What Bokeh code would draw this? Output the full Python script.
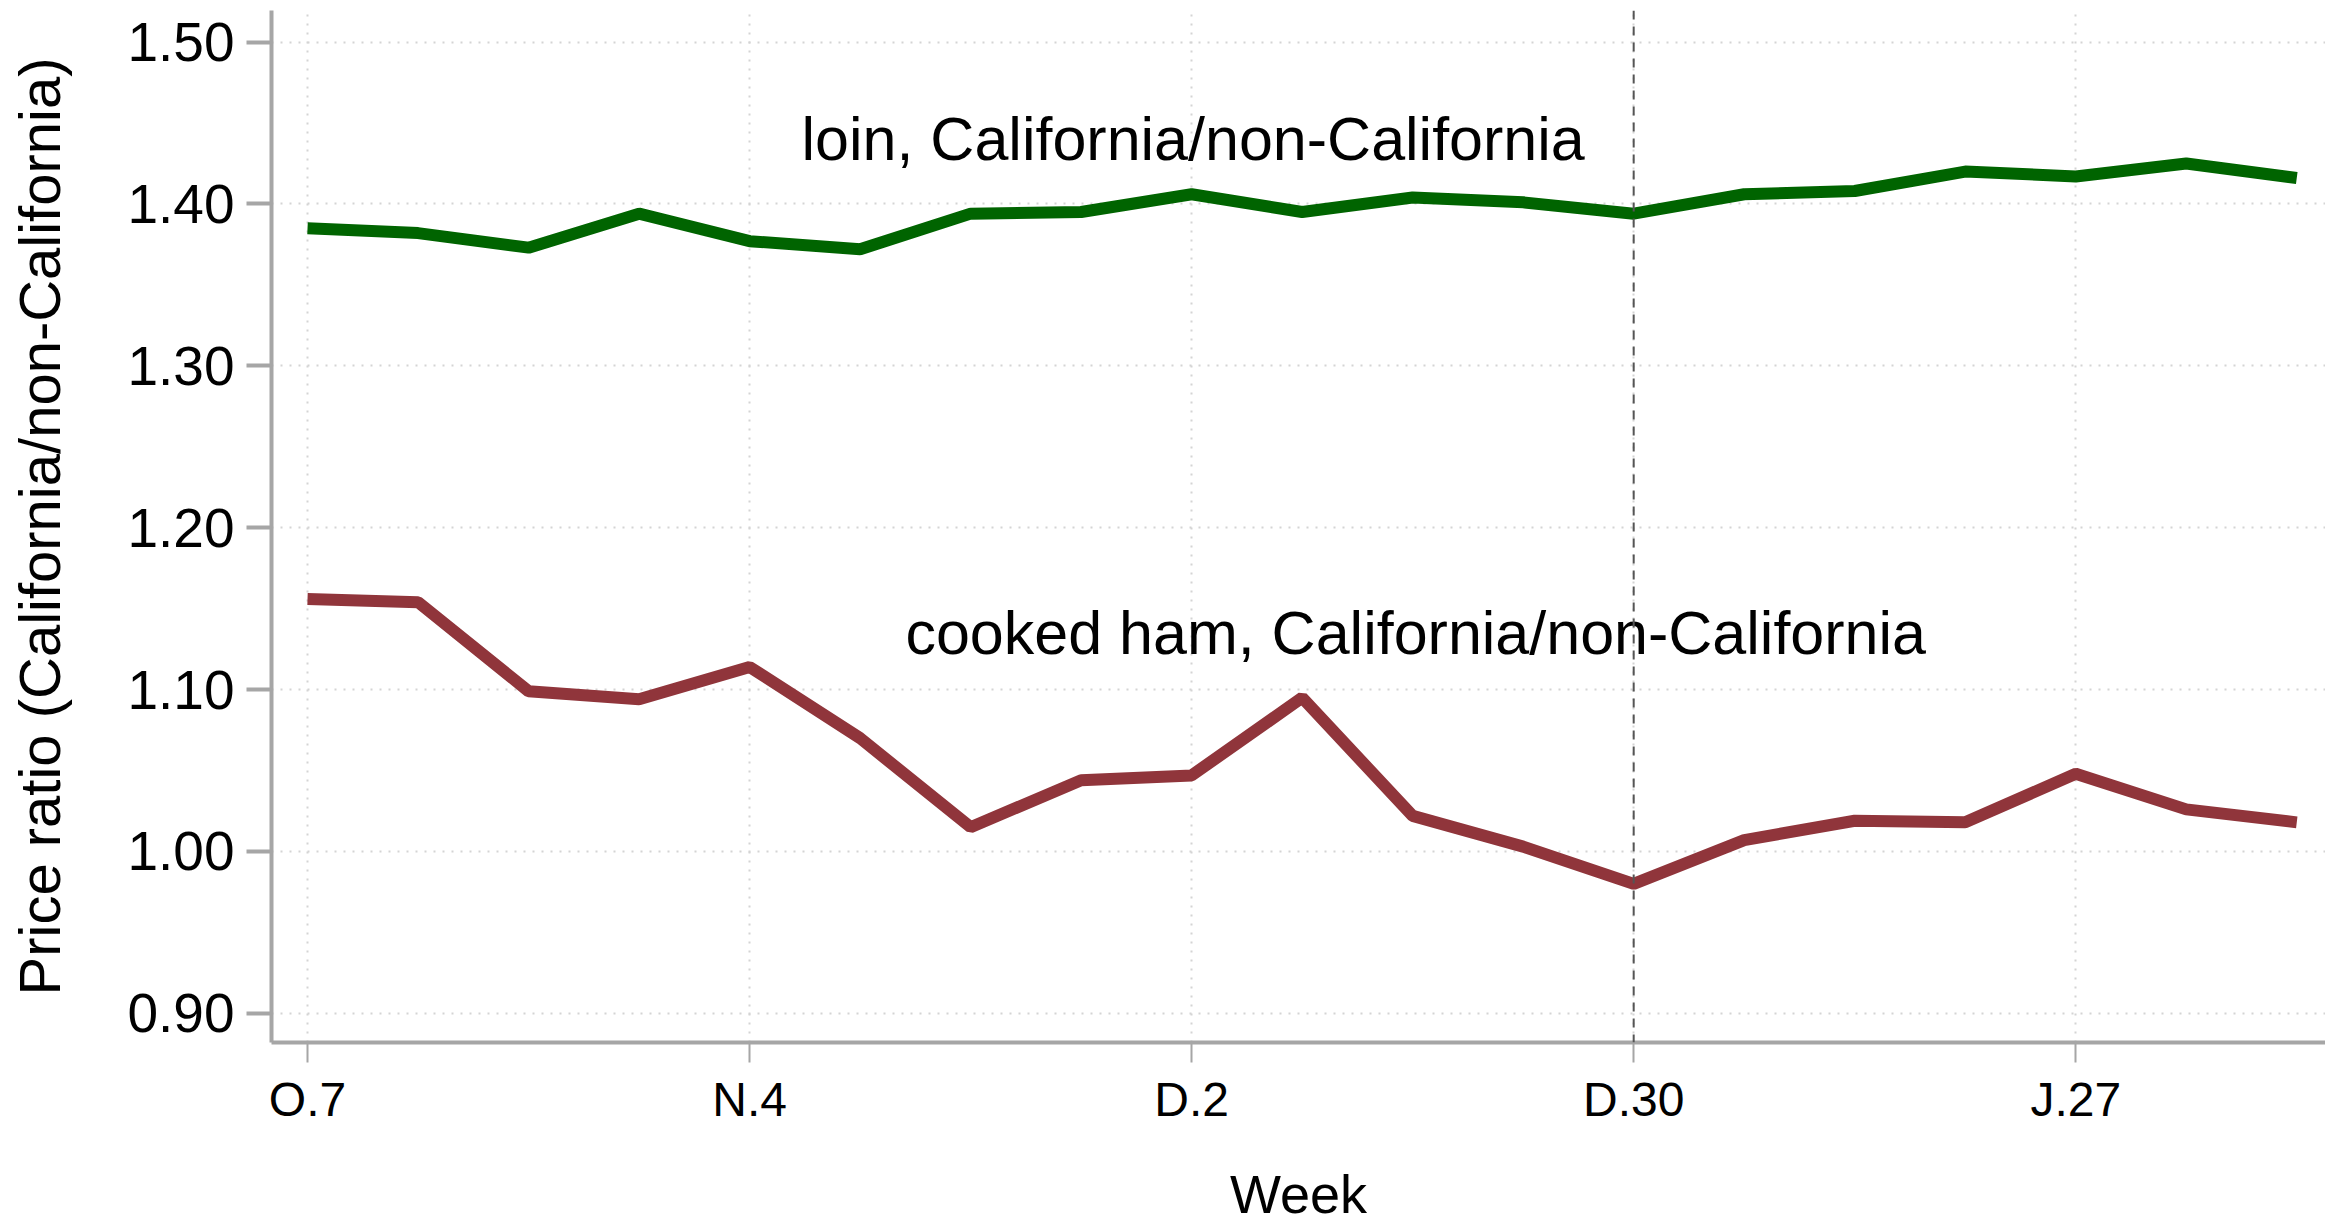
from bokeh.plotting import figure
from bokeh.models import FixedTicker, Span, NumeralTickFormatter, ColumnDataSource, Range1d
from bokeh.core.properties import value
from bokeh.embed import file_html
from bokeh.resources import INLINE

# ---- data ----
weeks = list(range(19))
tick_positions = [0, 4, 8, 12, 16]
tick_labels = ["O.7", "N.4", "D.2", "D.30", "J.27"]
y_ticks = [0.90, 1.00, 1.10, 1.20, 1.30, 1.40, 1.50]

loin = [1.385, 1.382, 1.373, 1.394, 1.377, 1.372, 1.394, 1.395, 1.406, 1.395,
        1.404, 1.401, 1.394, 1.406, 1.408, 1.420, 1.417, 1.425, 1.416]
ham = [1.156, 1.154, 1.099, 1.094, 1.114, 1.070, 1.015, 1.044, 1.047, 1.095,
       1.022, 1.003, 0.980, 1.007, 1.019, 1.018, 1.048, 1.026, 1.018]

loin_label = "loin, California/non-California"
ham_label = "cooked ham, California/non-California"
marker_week = 12

FONT = "Liberation Sans"
GREEN = "#006400"
RED = "#90353B"
AXIS_GRAY = "#a6a6a6"

p = figure(width=2325, height=1227, output_backend="svg", toolbar_location=None,
           x_range=Range1d(-0.326, 18.26), y_range=Range1d(0.882, 1.5195),
           min_border_left=271, min_border_bottom=185, min_border_top=10, min_border_right=0)
p.outline_line_color = None
p.background_fill_color = "white"
p.border_fill_color = "white"

# grid
for g in (p.xgrid, p.ygrid):
    g.grid_line_color = "#d4d4d4"
    g.grid_line_width = 2
    g.grid_line_dash = "2 7"
p.xgrid.ticker = FixedTicker(ticks=tick_positions)
p.ygrid.ticker = FixedTicker(ticks=y_ticks)

# x axis
xa = p.xaxis[0]
xa.ticker = FixedTicker(ticks=tick_positions)
xa.major_label_overrides = {t: l for t, l in zip(tick_positions, tick_labels)}
xa.axis_line_color = AXIS_GRAY
xa.axis_line_width = 4
xa.major_tick_line_color = AXIS_GRAY
xa.major_tick_line_width = 2
xa.major_tick_out = 20
xa.major_tick_in = 0
xa.minor_tick_line_color = None
xa.major_label_text_font = FONT
xa.major_label_text_font_size = "48px"
xa.major_label_text_color = "black"
xa.major_label_standoff = 10
xa.axis_label = "Week"
xa.axis_label_text_font = FONT
xa.axis_label_text_font_size = "54px"
xa.axis_label_text_font_style = "normal"
xa.axis_label_text_color = "black"
xa.axis_label_standoff = 35

# y axis
ya = p.yaxis[0]
ya.ticker = FixedTicker(ticks=y_ticks)
ya.formatter = NumeralTickFormatter(format="0.00")
ya.axis_line_color = AXIS_GRAY
ya.axis_line_width = 4
ya.major_tick_line_color = AXIS_GRAY
ya.major_tick_line_width = 4
ya.major_tick_out = 25
ya.major_tick_in = 0
ya.minor_tick_line_color = None
ya.major_label_text_font = FONT
ya.major_label_text_font_size = "55px"
ya.major_label_text_color = "black"
ya.major_label_standoff = 12
ya.axis_label = "Price ratio (California/non-California)"
ya.axis_label_text_font = FONT
ya.axis_label_text_font_size = "58px"
ya.axis_label_text_font_style = "normal"
ya.axis_label_text_color = "black"
ya.axis_label_standoff = 52

# vertical dashed marker line
p.add_layout(Span(location=marker_week, dimension="height", line_color="#555555",
                  line_width=2, line_dash="9 7"))

src = ColumnDataSource(dict(week=weeks, loin=loin, ham=ham))
p.line("week", "loin", source=src, line_color=GREEN, line_width=12)
p.line("week", "ham", source=src, line_color=RED, line_width=12)

p.text(x=[4.47], y=[1.4404], text=[loin_label], text_font=value(FONT),
       text_font_size="61px", text_baseline="middle", text_align="left", text_color="black")
p.text(x=[5.41], y=[1.1347], text=[ham_label], text_font=value(FONT),
       text_font_size="61px", text_baseline="middle", text_align="left", text_color="black")

open("out.html", "w").write(file_html(p, INLINE))
